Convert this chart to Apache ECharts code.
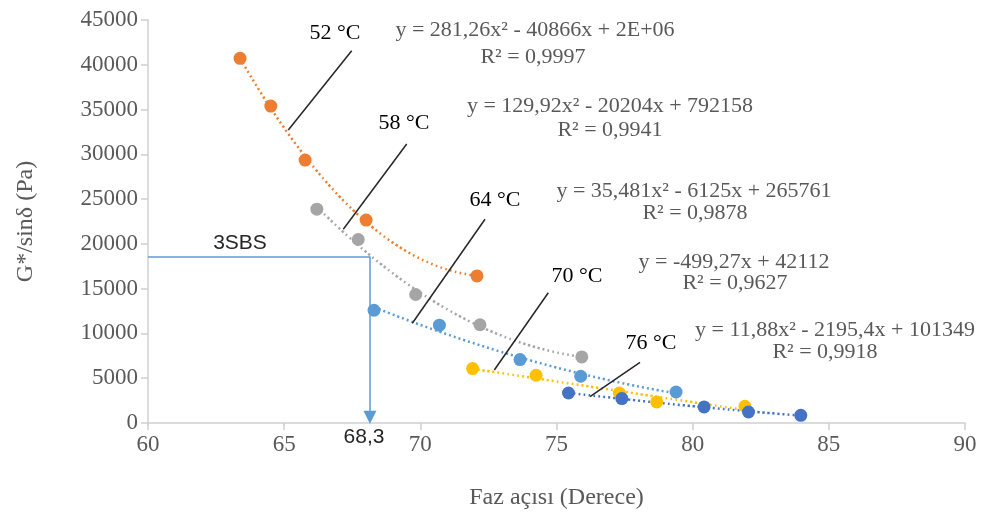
<!DOCTYPE html>
<html>
<head>
<meta charset="utf-8">
<script src="https://cdn.jsdelivr.net/npm/echarts@6/dist/echarts.min.js"></script>
<style>html,body{margin:0;padding:0;background:#fff}#main{width:986px;height:523px}</style>
</head>
<body>
<div id="main"></div>
<script>
// Faz açısı (derece) ve G*/sinδ (Pa), her sıcaklık için ayrı
var x52 = [63.38, 64.51, 65.77, 68.01, 72.08];
var y52 = [40720, 35390, 29360, 22660, 16420];
var x58 = [66.2, 67.72, 69.83, 72.19, 75.93];
var y58 = [23880, 20490, 14350, 10970, 7380];
var x64 = [68.3, 70.7, 73.66, 75.89, 79.39];
var y64 = [12590, 10920, 7080, 5220, 3460];
var x70 = [71.92, 74.25, 77.31, 78.68, 81.92];
var y70 = [6080, 5330, 3350, 2350, 1870];
var x76 = [75.44, 77.4, 80.42, 82.05, 83.97];
var y76 = [3350, 2730, 1790, 1230, 860];
var xTicks = [60, 65, 70, 75, 80, 85, 90];
var yTicks = [0, 5000, 10000, 15000, 20000, 25000, 30000, 35000, 40000, 45000];
var sbsX = 68.15, sbsY = 18600; // 3SBS sınırı

var serif = '"Liberation Serif", "Times New Roman", serif';
var sans = '"Liberation Sans", Arial, sans-serif';

function pairs(xs, ys) {
    var out = [];
    for (var i = 0; i < xs.length; i++) out.push([xs[i], ys[i]]);
    return out;
}

// en küçük kareler ile polinom eğilim çizgisi
function fit(xs, ys, deg) {
    var n = deg + 1, A = [], b = [], i, j, k;
    var m = 0;
    for (i = 0; i < xs.length; i++) m += xs[i];
    m = m / xs.length;
    for (i = 0; i < n; i++) { A.push([]); b.push(0); for (j = 0; j < n; j++) A[i].push(0); }
    for (k = 0; k < xs.length; k++) {
        var t = xs[k] - m;
        for (i = 0; i < n; i++) {
            for (j = 0; j < n; j++) A[i][j] += Math.pow(t, i + j);
            b[i] += ys[k] * Math.pow(t, i);
        }
    }
    for (i = 0; i < n; i++) {
        for (k = i + 1; k < n; k++) {
            var f = A[k][i] / A[i][i];
            for (j = i; j < n; j++) A[k][j] -= f * A[i][j];
            b[k] -= f * b[i];
        }
    }
    var c = [];
    for (i = n - 1; i >= 0; i--) {
        var s = b[i];
        for (j = i + 1; j < n; j++) s -= A[i][j] * c[j];
        c[i] = s / A[i][i];
    }
    return function (x) {
        var t = x - m, s = 0;
        for (var q = 0; q < n; q++) s += c[q] * Math.pow(t, q);
        return s;
    };
}

function trend(xs, ys, deg) {
    var f = fit(xs, ys, deg), pts = [];
    var a = xs[0], z = xs[xs.length - 1];
    for (var i = 0; i <= 50; i++) {
        var x = a + (z - a) * i / 50;
        pts.push([x, f(x)]);
    }
    return pts;
}

var groups = [
    { name: '52 °C', xs: x52, ys: y52, deg: 2, color: '#ED7D31' },
    { name: '58 °C', xs: x58, ys: y58, deg: 2, color: '#A5A5A5' },
    { name: '64 °C', xs: x64, ys: y64, deg: 2, color: '#5B9BD5' },
    { name: '70 °C', xs: x70, ys: y70, deg: 1, color: '#FFC000' },
    { name: '76 °C', xs: x76, ys: y76, deg: 2, color: '#4472C4' }
];

var series = [];
groups.forEach(function (g) {
    series.push({
        name: g.name + ' eğilim',
        type: 'line',
        data: trend(g.xs, g.ys, g.deg),
        showSymbol: false,
        smooth: true,
        silent: true,
        z: 2,
        lineStyle: { color: g.color, width: 2.5, type: [2, 3] }
    });
});
groups.forEach(function (g) {
    series.push({
        name: g.name,
        type: 'scatter',
        data: pairs(g.xs, g.ys),
        symbol: 'circle',
        symbolSize: 13,
        z: 3,
        itemStyle: { color: g.color, opacity: 1 }
    });
});

// 3SBS referans çizgisi
series.push({
    type: 'line',
    data: [],
    silent: true,
    markLine: {
        silent: true,
        animation: false,
        label: { show: false },
        lineStyle: { color: '#5B9BD5', width: 1.5, type: 'solid' },
        data: [
            [{ coord: [xTicks[0], sbsY], symbol: 'none' }, { coord: [sbsX, sbsY], symbol: 'none' }],
            [{ coord: [sbsX, sbsY], symbol: 'none' }, { coord: [sbsX, 650], symbol: 'triangle', symbolSize: [13, 13] }]
        ]
    }
});

function txt(x, y, s, size, color, font) {
    return {
        type: 'text', x: x, y: y, z: 50,
        style: {
            text: s, fill: color || '#595959', font: (size || 22) + 'px ' + (font || serif),
            textAlign: 'center', textVerticalAlign: 'middle'
        }
    };
}
function seg(x1, y1, x2, y2) {
    return {
        type: 'line', z: 50,
        shape: { x1: x1, y1: y1, x2: x2, y2: y2 },
        style: { stroke: '#262626', lineWidth: 1.5 }
    };
}

var graphics = [
    txt(335, 33, '52 °C', 22, '#000'),
    txt(404, 123, '58 °C', 22, '#000'),
    txt(495, 200, '64 °C', 22, '#000'),
    txt(577, 276, '70 °C', 22, '#000'),
    txt(651, 343, '76 °C', 22, '#000'),
    seg(351.7, 50.7, 288.3, 130),
    seg(406.7, 144, 343.3, 229.3),
    seg(485, 219.3, 412.3, 323.3),
    seg(548.3, 292.7, 494.3, 370),
    seg(640, 362.3, 590, 396.7),
    txt(535, 30, 'y = 281,26x² - 40866x + 2E+06'),
    txt(533, 57, 'R² = 0,9997'),
    txt(610, 106, 'y = 129,92x² - 20204x + 792158'),
    txt(610, 130, 'R² = 0,9941'),
    txt(694, 191, 'y = 35,481x² - 6125x + 265761'),
    txt(695, 213, 'R² = 0,9878'),
    txt(734, 262, 'y = -499,27x + 42112'),
    txt(735, 283, 'R² = 0,9627'),
    txt(835, 330, 'y = 11,88x² - 2195,4x + 101349'),
    txt(825, 352, 'R² = 0,9918'),
    txt(240, 243, '3SBS', 21, '#262626', sans),
    txt(364, 437, '68,3', 21, '#262626', sans)
];

var myChart = echarts.init(document.getElementById('main'));
option = {
    animation: false,
    backgroundColor: '#fff',
    grid: { left: 148, right: 21, top: 20, bottom: 100 },
    xAxis: {
        type: 'value',
        min: xTicks[0],
        max: xTicks[xTicks.length - 1],
        interval: xTicks[1] - xTicks[0],
        name: 'Faz açısı (Derece)',
        nameLocation: 'middle',
        nameGap: 63,
        nameTextStyle: { fontFamily: serif, fontSize: 24, color: '#595959' },
        axisLine: { lineStyle: { color: '#D0D0D0', width: 1.5 } },
        axisTick: { show: true, length: 7, lineStyle: { color: '#D0D0D0', width: 1.5 } },
        axisLabel: { fontFamily: serif, fontSize: 23, color: '#595959', margin: 10 },
        splitLine: { show: false }
    },
    yAxis: {
        type: 'value',
        min: yTicks[0],
        max: yTicks[yTicks.length - 1],
        interval: yTicks[1] - yTicks[0],
        name: 'G*/sinδ (Pa)',
        nameLocation: 'middle',
        nameGap: 110,
        nameTextStyle: { fontFamily: serif, fontSize: 24, color: '#595959' },
        axisLine: { show: true, lineStyle: { color: '#D0D0D0', width: 1.5 } },
        axisTick: { show: true, length: 7, lineStyle: { color: '#D0D0D0', width: 1.5 } },
        axisLabel: {
            fontFamily: serif, fontSize: 23, color: '#595959', margin: 10,
            formatter: function (v) { return String(v); }
        },
        splitLine: { show: false }
    },
    series: series,
    graphic: graphics
};
myChart.setOption(option);
</script>
</body>
</html>
